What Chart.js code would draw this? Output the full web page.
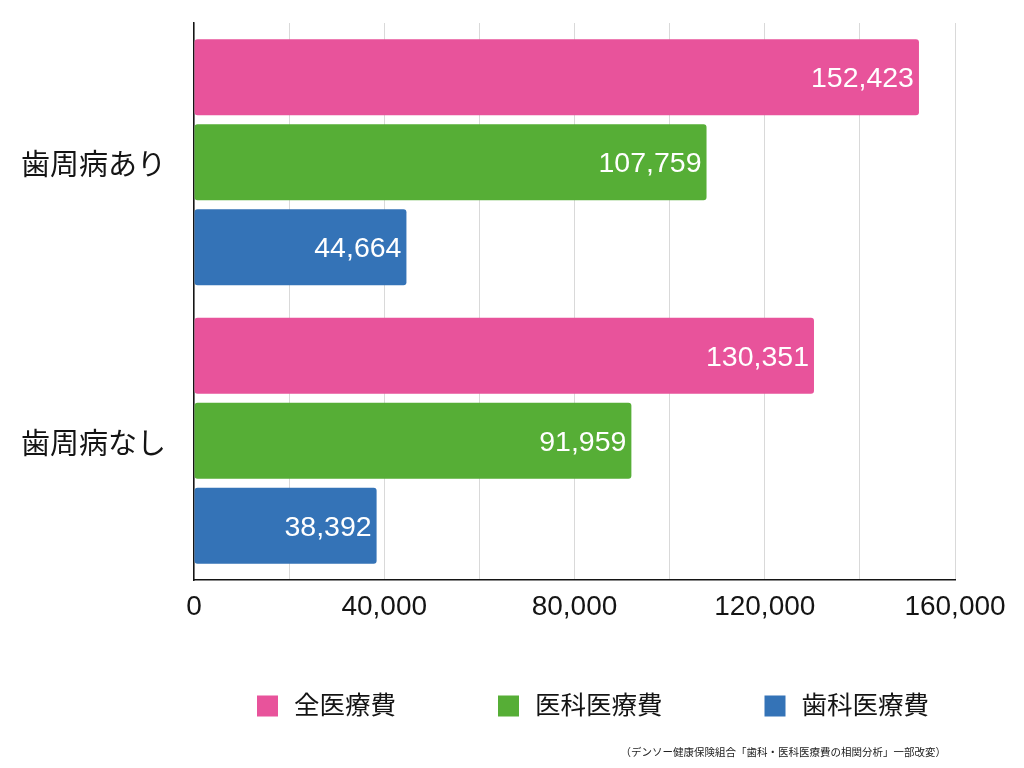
<!DOCTYPE html>
<html lang="ja">
<head>
<meta charset="utf-8">
<title>歯周病の有無と医療費</title>
<script src="https://cdn.jsdelivr.net/npm/chart.js@4.4.1/dist/chart.umd.min.js"></script>
<style>
  html, body { margin: 0; padding: 0; background: #fff; }
  #wrap { width: 1024px; height: 768px; }
</style>
</head>
<body>
<div id="wrap"><canvas id="myChart"></canvas></div>
<script>
var categories = ['歯周病あり', '歯周病なし'];
var seriesNames = ['全医療費', '医科医療費', '歯科医療費'];
var totalCost = [152423, 130351];
var medicalCost = [107759, 91959];
var dentalCost = [44664, 38392];
var xMax = 160000;
var xStep = 20000;      // grid lines
var xLabelStep = 40000; // labelled ticks
var sourceNote = '（デンソー健康保険組合「歯科・医科医療費の相関分析」一部改変）';

var colors = ['#e8539b', '#56ae36', '#3473b7'];
var FONT = "'Liberation Sans', 'Noto Sans CJK JP', sans-serif";
var INK = '#141414';

// value labels inside the bars, legend row and source note
var extras = {
    id: 'extras',
    afterDatasetsDraw: function (chart) {
        var ctx = chart.ctx;
        ctx.save();
        ctx.font = '28.5px ' + FONT;
        ctx.fillStyle = '#fff';
        ctx.textAlign = 'right';
        ctx.textBaseline = 'middle';
        chart.data.datasets.forEach(function (ds, i) {
            chart.getDatasetMeta(i).data.forEach(function (bar, j) {
                ctx.fillText(ds.data[j].toLocaleString('en-US'), bar.x - 5, bar.y + 2);
            });
        });
        ctx.restore();
    },
    afterDraw: function (chart) {
        var ctx = chart.ctx;
        ctx.save();
        // legend
        ctx.font = '25.5px ' + FONT;
        ctx.textBaseline = 'middle';
        ctx.textAlign = 'left';
        var box = 21, gap = 16, spacing = 102;
        var widths = chart.data.datasets.map(function (ds) {
            return box + gap + ctx.measureText(ds.label).width;
        });
        var total = widths.reduce(function (a, b) { return a + b; }, 0) + spacing * (widths.length - 1);
        var x = 593 - total / 2, cy = 706;
        chart.data.datasets.forEach(function (ds, i) {
            ctx.fillStyle = ds.backgroundColor;
            ctx.fillRect(x, cy - box / 2, box, box);
            ctx.fillStyle = INK;
            ctx.fillText(ds.label, x + box + gap, cy + 1);
            x += widths[i] + spacing;
        });
        // source
        ctx.font = "10.5px 'Noto Sans CJK JP', sans-serif";
        ctx.textAlign = 'right';
        ctx.fillStyle = '#222';
        ctx.fillText(sourceNote, 946, 752);
        ctx.restore();
    }
};

var ctx = document.getElementById('myChart').getContext('2d');
var myChart = new Chart(ctx, {
    type: 'bar',
    data: {
        labels: categories,
        datasets: [totalCost, medicalCost, dentalCost].map(function (values, i) {
            return {
                label: seriesNames[i],
                data: values,
                backgroundColor: colors[i],
                borderRadius: 3,
                borderSkipped: false,
                categoryPercentage: 0.916,
                barPercentage: 0.894
            };
        })
    },
    options: {
        indexAxis: 'y',
        responsive: true,
        maintainAspectRatio: false,
        animation: false,
        layout: { padding: { top: 23, right: 69, bottom: 138, left: 0 } },
        plugins: {
            legend: { display: false },
            tooltip: { enabled: false }
        },
        scales: {
            x: {
                type: 'linear',
                min: 0,
                max: xMax,
                grid: { color: '#d9d9d9', lineWidth: 1, drawTicks: false },
                border: { display: true, color: INK, width: 1.5 },
                ticks: {
                    stepSize: xStep,
                    autoSkip: false,
                    maxRotation: 0,
                    padding: 10,
                    color: INK,
                    font: { size: 28, family: FONT },
                    callback: function (v) {
                        return v % xLabelStep === 0 ? v.toLocaleString('en-US') : '';
                    }
                },
                afterFit: function (s) { s.height = 50; }
            },
            y: {
                grid: { display: false, drawTicks: false },
                border: { display: true, color: INK, width: 1.5 },
                ticks: {
                    padding: 28,
                    labelOffset: 5,
                    color: INK,
                    font: { size: 29, family: FONT }
                },
                afterFit: function (s) {
                    s.width = 194;
                    s.paddingTop = 0;
                    s.paddingBottom = 0;
                }
            }
        }
    },
    plugins: [extras]
});
</script>
</body>
</html>
